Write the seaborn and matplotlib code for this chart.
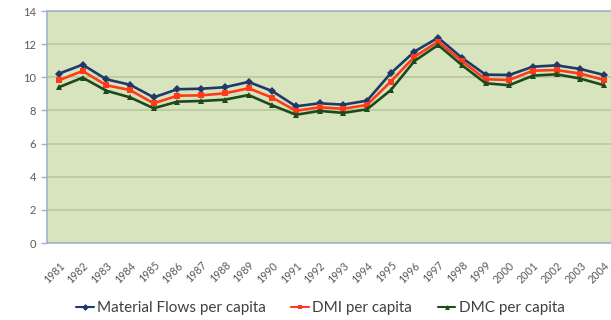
import numpy as np
import pandas as pd
import matplotlib
matplotlib.use("Agg")
import matplotlib.pyplot as plt
import seaborn as sns

years = [str(y) for y in range(1981, 2005)]
material_flows = [10.22, 10.76, 9.88, 9.55, 8.79, 9.28, 9.31, 9.40, 9.72, 9.17, 8.25, 8.43,
                  8.35, 8.59, 10.24, 11.55, 12.39, 11.18, 10.16, 10.14, 10.64, 10.72, 10.50, 10.14]
dmi = [9.82, 10.38, 9.52, 9.23, 8.43, 8.89, 8.91, 9.03, 9.34, 8.77, 7.98, 8.19,
       8.10, 8.33, 9.74, 11.24, 12.15, 10.98, 9.88, 9.84, 10.40, 10.44, 10.22, 9.84]
dmc = [9.40, 9.98, 9.19, 8.79, 8.13, 8.53, 8.57, 8.65, 8.93, 8.31, 7.74, 7.97,
       7.85, 8.07, 9.22, 10.98, 11.95, 10.74, 9.64, 9.52, 10.10, 10.18, 9.92, 9.52]
series_names = ["Material Flows per capita", "DMI per capita", "DMC per capita"]
y_ticks = [0, 2, 4, 6, 8, 10, 12, 14]

colors = {"Material Flows per capita": "#1f3a68",
          "DMI per capita": "#ff3a1a",
          "DMC per capita": "#1d4a1d"}
markers = {"Material Flows per capita": "D",
           "DMI per capita": "s",
           "DMC per capita": "^"}

df = pd.concat([
    pd.DataFrame({"idx": np.arange(len(years)), "value": vals, "series": name})
    for name, vals in zip(series_names, [material_flows, dmi, dmc])
])

sns.set_theme(style="white")
plt.rcParams["font.family"] = ["Lato", "DejaVu Sans"]

fig = plt.figure(figsize=(6.11, 3.2), dpi=100)
ax = fig.add_axes([0.077, 0.2406, 0.931, 0.725])
ax.set_facecolor("#d7e4bd")

sns.lineplot(data=df, x="idx", y="value", hue="series", style="series",
             palette=colors, markers=markers, dashes=False, linewidth=1.9,
             markersize=4.2, markeredgewidth=0, ax=ax, legend=False, zorder=3)

ax.set_xlim(-0.5, len(years) - 0.5)
ax.set_ylim(0, 14)
ax.set_yticks(y_ticks)
ax.set_yticklabels([str(t) for t in y_ticks], fontsize=8, color="#595959")
ax.yaxis.grid(True, color="#bccb9e", linewidth=1.3)
ax.set_axisbelow(True)

ax.set_xticks(np.arange(len(years)))
ax.set_xticklabels(years, rotation=45, ha="right", rotation_mode="anchor",
                   fontsize=7.7, color="#595959")
ax.set_xticks(np.arange(len(years) + 1) - 0.5, minor=True)
ax.tick_params(axis="x", which="major", length=0, pad=12)
ax.tick_params(axis="x", which="minor", length=4, color="#9fb3cc", width=1)
ax.tick_params(axis="y", which="major", length=4, color="#9fb3cc", width=1, left=True, pad=4)
ax.set_xlabel("")
ax.set_ylabel("")

for side in ["left", "bottom", "top"]:
    ax.spines[side].set_visible(True)
    ax.spines[side].set_color("#9fb3cc")
    ax.spines[side].set_linewidth(1.2)
ax.spines["right"].set_visible(False)

handles = [plt.Line2D([], [], color=colors[n], marker=markers[n], markersize=3.5,
                      markeredgewidth=0, linewidth=1.5) for n in series_names]
fig.legend(handles, series_names, loc="center", bbox_to_anchor=(0.524, 0.036),
           ncol=3, frameon=False, fontsize=11.0, handlelength=1.15, handletextpad=0.2,
           columnspacing=1.7, labelcolor="#404040")

fig.savefig("out.png", dpi=100, facecolor="white")
